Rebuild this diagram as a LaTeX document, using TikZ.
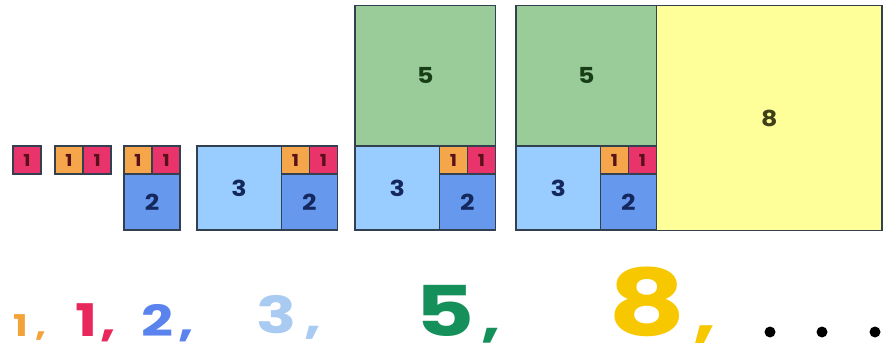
\documentclass[tikz,border=0pt]{standalone}
\usepackage{fontspec}
\setmainfont{Poppins}
\newfontfamily\seqfont{Poppins}[FakeStretch=1.3]
\newfontfamily\boxfont{Poppins}[FakeStretch=1.15]
\newcommand{\cm}[1]{{\fontsize{#1}{#1}\selectfont,}}
\definecolor{fred}{HTML}{E8336B}
\definecolor{forange}{HTML}{F5A54A}
\definecolor{fblue}{HTML}{6699EE}
\definecolor{flblue}{HTML}{99CCFF}
\definecolor{fgreen}{HTML}{99CC99}
\definecolor{fyellow}{HTML}{FFFF99}
\definecolor{edge}{HTML}{334050}
\definecolor{tred}{HTML}{5A1018}
\definecolor{tnavy}{HTML}{14285E}
\definecolor{tgreen}{HTML}{183E18}
\definecolor{tolive}{HTML}{404018}
\definecolor{bo}{HTML}{F2A33A}
\definecolor{br}{HTML}{E8285A}
\definecolor{bb}{HTML}{5B83EE}
\definecolor{blb}{HTML}{A9CBF2}
\definecolor{bg}{HTML}{15905A}
\definecolor{by}{HTML}{F7C800}
\begin{document}
\begin{tikzpicture}[x=1pt,y=-1pt,
  sq/.style={draw=edge,line width=1.6pt,inner sep=0pt,outer sep=0pt,anchor=north west,font=\boxfont\bfseries\fontsize{22}{22}\selectfont},
  one/.style={sq,minimum width=28.1pt,minimum height=28.1pt,text=tred,font=\boxfont\bfseries\fontsize{16.5}{16.5}\selectfont},
  sqo/.style={one,fill=forange},
  sqr/.style={one,fill=fred},
  sqtwo/.style={sq,fill=fblue,minimum width=56.2pt,minimum height=56.2pt,text=tnavy},
  sqthree/.style={sq,fill=flblue,minimum width=84.3pt,minimum height=84.3pt,text=tnavy},
  sqfive/.style={sq,fill=fgreen,minimum width=140.5pt,minimum height=140.5pt,text=tgreen},
  sqeight/.style={sq,fill=fyellow,minimum width=225.5pt,minimum height=225pt,text=tolive},
  num/.style={inner sep=0pt,anchor=base west}
]
\useasboundingbox (0,0) rectangle (886,355);
% group 0
\node[sqr] (a1) at (13,146) {1};
% group 1
\node[sqo] (b1) at (55,146) {1};
\node[sqr] (b2) at (83.1,146) {1};
% group 2
\node[sqo] (c1) at (124,146) {1};
\node[sqr] (c2) at (152.1,146) {1};
\node[sqtwo] (c3) at (124,174.1) {2};
% group 3
\node[sqthree] (d3) at (197,146) {3};
\node[sqo] (d1) at (281.3,146) {1};
\node[sqr] (d2) at (309.4,146) {1};
\node[sqtwo] (d4) at (281.3,174.1) {2};
% group 4
\node[sqfive] (e5) at (355,5.5) {5};
\node[sqthree] (e3) at (355,146) {3};
\node[sqo] (e1) at (439.3,146) {1};
\node[sqr] (e2) at (467.4,146) {1};
\node[sqtwo] (e4) at (439.3,174.1) {2};
% group 5
\node[sqfive] (f5) at (516,5.5) {5};
\node[sqthree] (f3) at (516,146) {3};
\node[sqo] (f1) at (600.3,146) {1};
\node[sqr] (f2) at (628.4,146) {1};
\node[sqtwo] (f4) at (600.3,174.1) {2};
\node[sqeight] (f8) at (656.5,5.5) {8};
% sequence
\node[num,text=bo,font=\seqfont\bfseries\fontsize{30}{30}\selectfont] (n1) at (13,337) {1\hspace{0.25em}\cm{30}};
\node[num,text=br,font=\seqfont\bfseries\fontsize{45}{45}\selectfont] (n2) at (75,337) {1\hspace{0.08em}\cm{42}};
\node[num,text=bb,font=\seqfont\bfseries\fontsize{43}{43}\selectfont] (n3) at (141,336) {2\hspace{0.12em}\cm{42}};
\node[num,text=blb,font=\seqfont\bfseries\fontsize{51}{51}\selectfont] (n4) at (256,334) {3\hspace{0.16em}\cm{46}};
\node[num,text=bg,font=\seqfont\bfseries\fontsize{70}{70}\selectfont] (n5) at (415,336) {5\hspace{0.1em}\cm{52}};
\node[num,text=by,font=\seqfont\bfseries\fontsize{92}{92}\selectfont] (n6) at (608,335) {8\hspace{0.08em}\cm{62}};
\fill (770,332) circle (5.5);
\fill (822,332) circle (5.5);
\fill (875,332) circle (5.5);
\end{tikzpicture}
\end{document}
